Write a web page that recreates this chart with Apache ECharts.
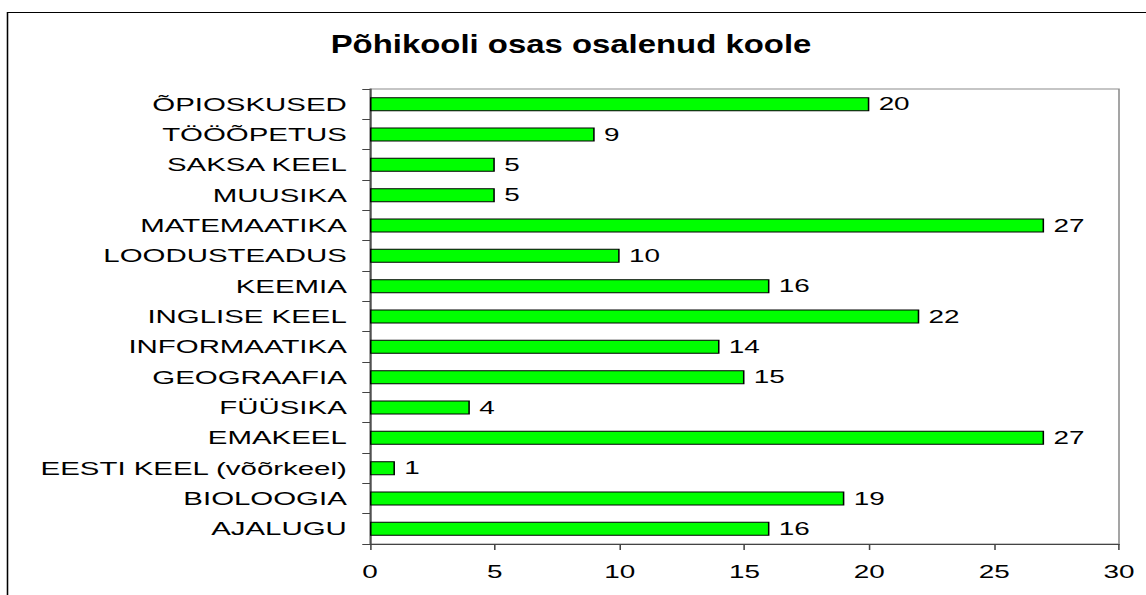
<!DOCTYPE html>
<html>
<head>
<meta charset="utf-8">
<script src="https://cdn.jsdelivr.net/npm/echarts@6/dist/echarts.min.js"></script>
<style>
html,body{margin:0;padding:0;background:#fff;overflow:hidden;width:1146px;height:595px;}
#c{width:740px;height:595px;transform:scaleX(1.548649);transform-origin:0 0;}
</style>
</head>
<body>
<div id="c"></div>
<script>
const titleText = 'Põhikooli osas osalenud koole';
const categories = ['ÕPIOSKUSED','TÖÖÕPETUS','SAKSA KEEL','MUUSIKA','MATEMAATIKA','LOODUSTEADUS','KEEMIA','INGLISE KEEL','INFORMAATIKA','GEOGRAAFIA','FÜÜSIKA','EMAKEEL','EESTI KEEL (võõrkeel)','BIOLOOGIA','AJALUGU'];
const values = [20, 9, 5, 5, 27, 10, 16, 22, 14, 15, 4, 27, 1, 19, 16];
const xMin = 0, xMax = 30, xStep = 5;

const W = 740, S = 1146 / W;
const chart = echarts.init(document.getElementById('c'), null, {renderer: 'svg', width: W, height: 595});
const font = 'Liberation Sans, Arial, sans-serif';
chart.setOption({
  animation: false,
  backgroundColor: '#fff',
  graphic: [{
    type: 'rect', silent: true, z: -1,
    shape: {x: 7.5 / S, y: 12.5, width: 900, height: 700},
    style: {fill: 'none', stroke: '#000', lineWidth: 1}
  }, {
    type: 'text', silent: true,
    x: 571 / S, y: 44, scaleX: 0.83, scaleY: 1,
    style: {
      text: titleText, fill: '#000', align: 'center', verticalAlign: 'middle',
      font: 'bold 25.6px Liberation Sans, Arial, sans-serif'
    }
  }],
  grid: {
    left: 370 / S, right: W - 1119 / S, top: 89, bottom: 51,
    show: true, borderColor: '#8c8c8c', borderWidth: 1, backgroundColor: 'transparent'
  },
  xAxis: {
    type: 'value', min: xMin, max: xMax, interval: xStep,
    splitLine: {show: false},
    axisLine: {show: true, lineStyle: {color: '#444', width: 1}},
    axisTick: {show: true, length: 6, lineStyle: {color: '#444'}},
    axisLabel: {color: '#000', fontSize: 18, fontFamily: font, margin: 19}
  },
  yAxis: {
    type: 'category', inverse: true, data: categories,
    axisLine: {show: true, lineStyle: {color: '#444', width: 1}},
    axisTick: {show: true, length: 5, lineStyle: {color: '#444'}},
    axisLabel: {color: '#000', fontSize: 19, fontFamily: font, margin: 15}
  },
  series: [{
    type: 'bar', data: values, barWidth: 14,
    itemStyle: {color: '#00ff00', borderColor: '#000', borderWidth: 1},
    label: {show: true, position: 'right', distance: 6, color: '#000', fontSize: 18, fontFamily: font}
  }]
});
</script>
</body>
</html>
